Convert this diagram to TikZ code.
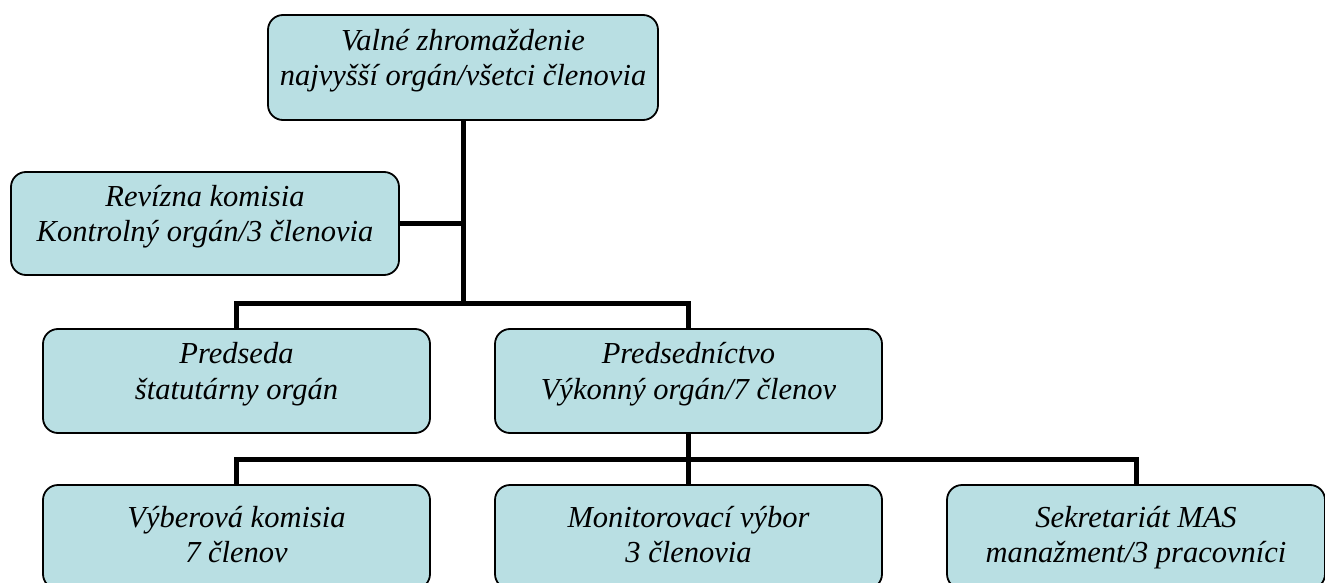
\documentclass[tikz,border=0pt]{standalone}
\usepackage{fontspec}
\setmainfont{Liberation Serif}
\usepackage{xcolor}
\usepackage{tikz}
\definecolor{organfill}{RGB}{185,223,227}
\tikzset{
    organ/.style={draw, line width=1.8pt, rounded corners=15pt, fill=organfill, align=center,
        font=\fontsize{30.5}{35.5}\selectfont\itshape, minimum height=104pt, text depth=20pt, inner sep=0pt},
    organlow/.style={organ, text depth=5pt},
    link/.style={line width=5pt}
}

\begin{document}
\begin{tikzpicture}[x=1pt,y=-1pt]
\clip (0,0) rectangle (1325,583);

% General assembly
\node[organ, minimum width=390pt, minimum height=105pt] (vz) at (463,67.5) {Valné zhromaždenie\\najvyšší orgán/všetci členovia};

% Audit committee
\node[organ, minimum width=388pt, minimum height=103pt] (rk) at (205,223.5) {Revízna komisia\\Kontrolný orgán/3 členovia};

% Second row
\node[organ, minimum width=387pt] (pr) at (236.5,381) {Predseda\\štatutárny orgán};
\node[organ, minimum width=387pt] (pv) at (688.5,381) {Predsedníctvo\\Výkonný orgán/7 členov};

% Third row
\node[organlow, minimum width=387pt] (vk) at (236.5,537) {Výberová komisia\\7 členov};
\node[organlow, minimum width=387pt] (mv) at (688.5,537) {Monitorovací výbor\\3 členovia};
\node[organlow, minimum width=378pt] (sm) at (1136,537) {Sekretariát MAS\\manažment/3 pracovníci};

% Connectors
\coordinate (bus1) at (463,303);
\coordinate (bus2) at (688.5,459);
\draw[link] (vz.south) -- (bus1);
\draw[link] (rk.east) -- (rk.east -| vz.south);
\draw[link] (pr.north) |- (bus1) -| (pv.north);
\draw[link] (pv.south) -- (mv.north);
\draw[link] (vk.north) |- (bus2) -| (sm.north);
\end{tikzpicture}
\end{document}
